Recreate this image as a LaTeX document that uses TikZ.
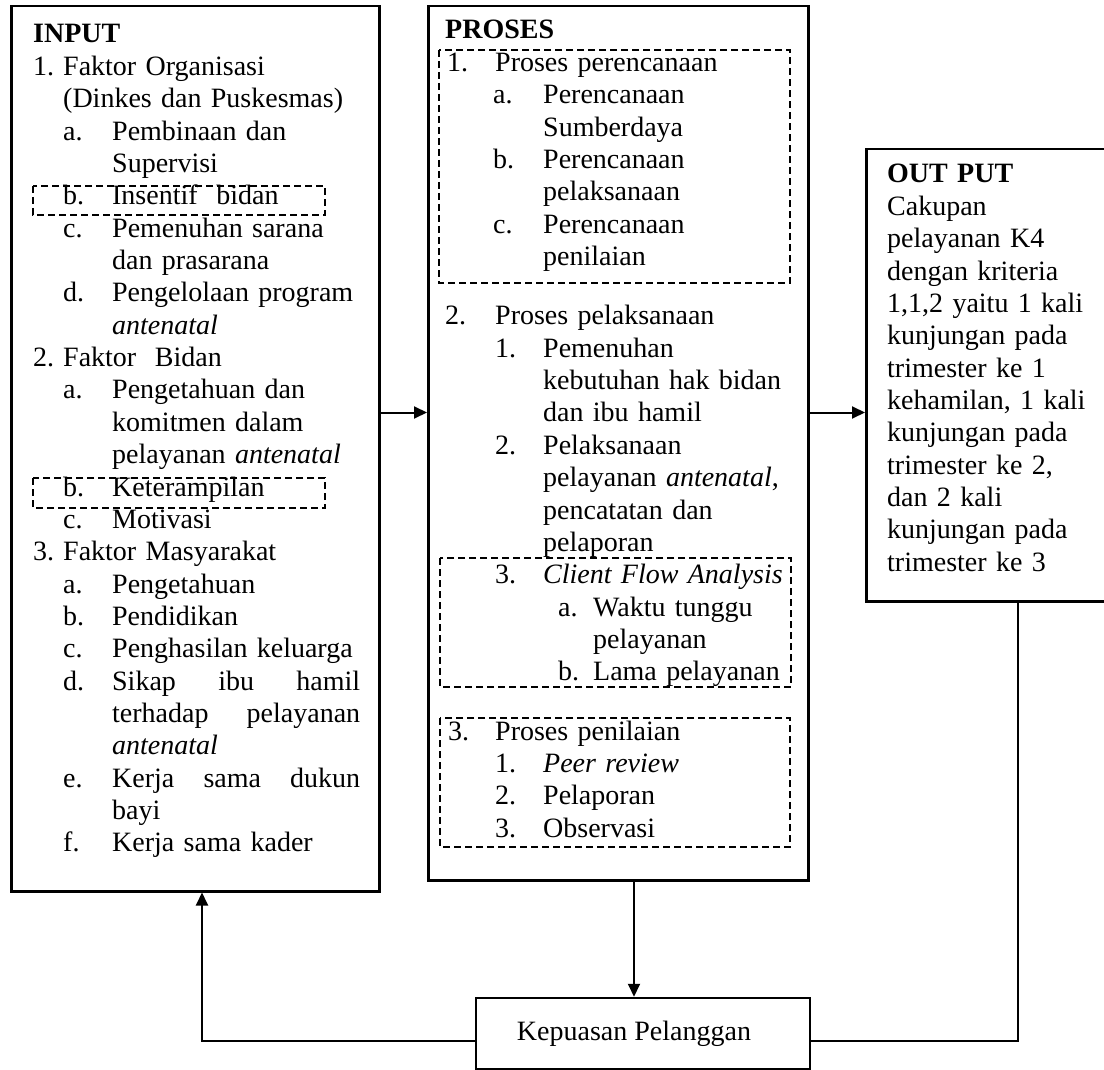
\documentclass[tikz,border=0pt]{standalone}
\usepackage{fontspec}
\setmainfont{Liberation Serif}
\usetikzlibrary{arrows.meta}

\newcommand{\itm}[3]{\hspace*{#1}\makebox[#2][l]{#3}}

\begin{document}
\begin{tikzpicture}[x=1pt, y=-1pt, >={Triangle[length=13pt, width=12pt]},
    box/.style={draw, line width=2.5pt, inner sep=0pt, anchor=north west},
    dashbox/.style={draw, line width=1.8pt, dash pattern=on 7pt off 4pt},
    list/.style={anchor=base west, inner sep=0pt, align=left, font=\fontsize{28}{32.36}\selectfont},
    link/.style={line width=2pt}]

    \useasboundingbox (0,0) rectangle (1104,1070);
    \clip (0,0) rectangle (1104,1070);

    % Boxes
    \node[box, minimum width=368pt, minimum height=885pt] (input) at (10,5) {};
    \node[box, minimum width=380pt, minimum height=874pt] (proses) at (427,5) {};
    \node[box, minimum width=260pt, minimum height=452pt] (output) at (865,148) {};
    \node[box, anchor=center, minimum width=334pt, minimum height=71pt,
        font=\fontsize{28}{32}\selectfont] (puas) at (643,1033.5) {Kepuasan Pelanggan\hspace*{18pt}};

    % Dashed groups
    \draw[dashbox] (33,186) rectangle (325,215);
    \draw[dashbox] (33,478) rectangle (325,508);
    \draw[dashbox] (439,50) rectangle (790,283);
    \draw[dashbox] (440,558) rectangle (791,687);
    \draw[dashbox] (440,718) rectangle (790,847);

    % Texts
    \node[list, text width=327pt] (inputtext) at (33,43) {%
        \textbf{INPUT}\\
        \itm{0pt}{30pt}{1.}Faktor Organisasi\\
        \itm{30pt}{0pt}{}(Dinkes dan Puskesmas)\\
        \itm{30pt}{49pt}{a.}Pembinaan dan\\
        \itm{79pt}{0pt}{}Supervisi\\
        \itm{30pt}{49pt}{b.}Insentif~ bidan\\
        \itm{30pt}{49pt}{c.}Pemenuhan sarana\\
        \itm{79pt}{0pt}{}dan prasarana\\
        \itm{30pt}{49pt}{d.}Pengelolaan program\\
        \itm{79pt}{0pt}{}\textit{antenatal}\\
        \itm{0pt}{30pt}{2.}Faktor~ Bidan\\
        \itm{30pt}{49pt}{a.}Pengetahuan dan\\
        \itm{79pt}{0pt}{}komitmen dalam\\
        \itm{79pt}{0pt}{}pelayanan \textit{antenatal}\\
        \itm{30pt}{49pt}{b.}Keterampilan\\
        \itm{30pt}{49pt}{c.}Motivasi\\
        \itm{0pt}{30pt}{3.}Faktor Masyarakat\\
        \itm{30pt}{49pt}{a.}Pengetahuan\\
        \itm{30pt}{49pt}{b.}Pendidikan\\
        \itm{30pt}{49pt}{c.}Penghasilan keluarga\\
        \itm{30pt}{49pt}{d.}Sikap\hfill ibu\hfill hamil\\
        \itm{79pt}{0pt}{}terhadap\hfill pelayanan\\
        \itm{79pt}{0pt}{}\textit{antenatal}\\
        \itm{30pt}{49pt}{e.}Kerja\hfill sama\hfill dukun\\
        \itm{79pt}{0pt}{}bayi\\
        \itm{30pt}{49pt}{f.}Kerja sama kader};

    \node[list, text width=345pt] (prosestext) at (445,39) {%
        \textbf{PROSES}\\
        \itm{2pt}{48pt}{1.}Proses perencanaan\\
        \itm{48pt}{50pt}{a.}Perencanaan\\
        \itm{98pt}{0pt}{}Sumberdaya\\
        \itm{48pt}{50pt}{b.}Perencanaan\\
        \itm{98pt}{0pt}{}pelaksanaan\\
        \itm{48pt}{50pt}{c.}Perencanaan\\
        \itm{98pt}{0pt}{}penilaian\\[27pt]
        \itm{0pt}{50pt}{2.}Proses pelaksanaan\\
        \itm{50pt}{48pt}{1.}Pemenuhan\\
        \itm{98pt}{0pt}{}kebutuhan hak bidan\\
        \itm{98pt}{0pt}{}dan ibu hamil\\
        \itm{50pt}{48pt}{2.}Pelaksanaan\\
        \itm{98pt}{0pt}{}pelayanan \textit{antenatal},\\
        \itm{98pt}{0pt}{}pencatatan dan\\
        \itm{98pt}{0pt}{}pelaporan\\
        \itm{50pt}{48pt}{3.}\textit{Client Flow Analysis}\\
        \itm{113pt}{35pt}{a.}Waktu tunggu\\
        \itm{148pt}{0pt}{}pelayanan\\
        \itm{113pt}{35pt}{b.}Lama pelayanan\\[27pt]
        \itm{3pt}{47pt}{3.}Proses penilaian\\
        \itm{50pt}{48pt}{1.}\textit{Peer review}\\
        \itm{50pt}{48pt}{2.}Pelaporan\\
        \itm{50pt}{48pt}{3.}Observasi};

    \node[list, text width=200pt] (outputtext) at (887,183) {%
        \textbf{OUT PUT}\\
        Cakupan\\
        pelayanan K4\\
        dengan kriteria\\
        1,1,2 yaitu 1 kali\\
        kunjungan pada\\
        trimester ke 1\\
        kehamilan, 1 kali\\
        kunjungan pada\\
        trimester ke 2,\\
        dan 2 kali\\
        kunjungan pada\\
        trimester ke 3};

    % Connectors
    \coordinate (mid) at (0,412.5);
    \coordinate (down) at (634,0);
    \coordinate (low) at (0,1041);
    \coordinate (back) at (202,0);
    \coordinate (up) at (1018,0);

    \draw[link, ->] (input.east |- mid) -- (proses.west |- mid);
    \draw[link, ->] (proses.east |- mid) -- (output.west |- mid);
    \draw[link, ->] (proses.south -| down) -- (puas.north -| down);
    \draw[link, ->] (puas.west |- low) -| (input.south -| back);
    \draw[link] (puas.east |- low) -| (output.south -| up);

\end{tikzpicture}
\end{document}
